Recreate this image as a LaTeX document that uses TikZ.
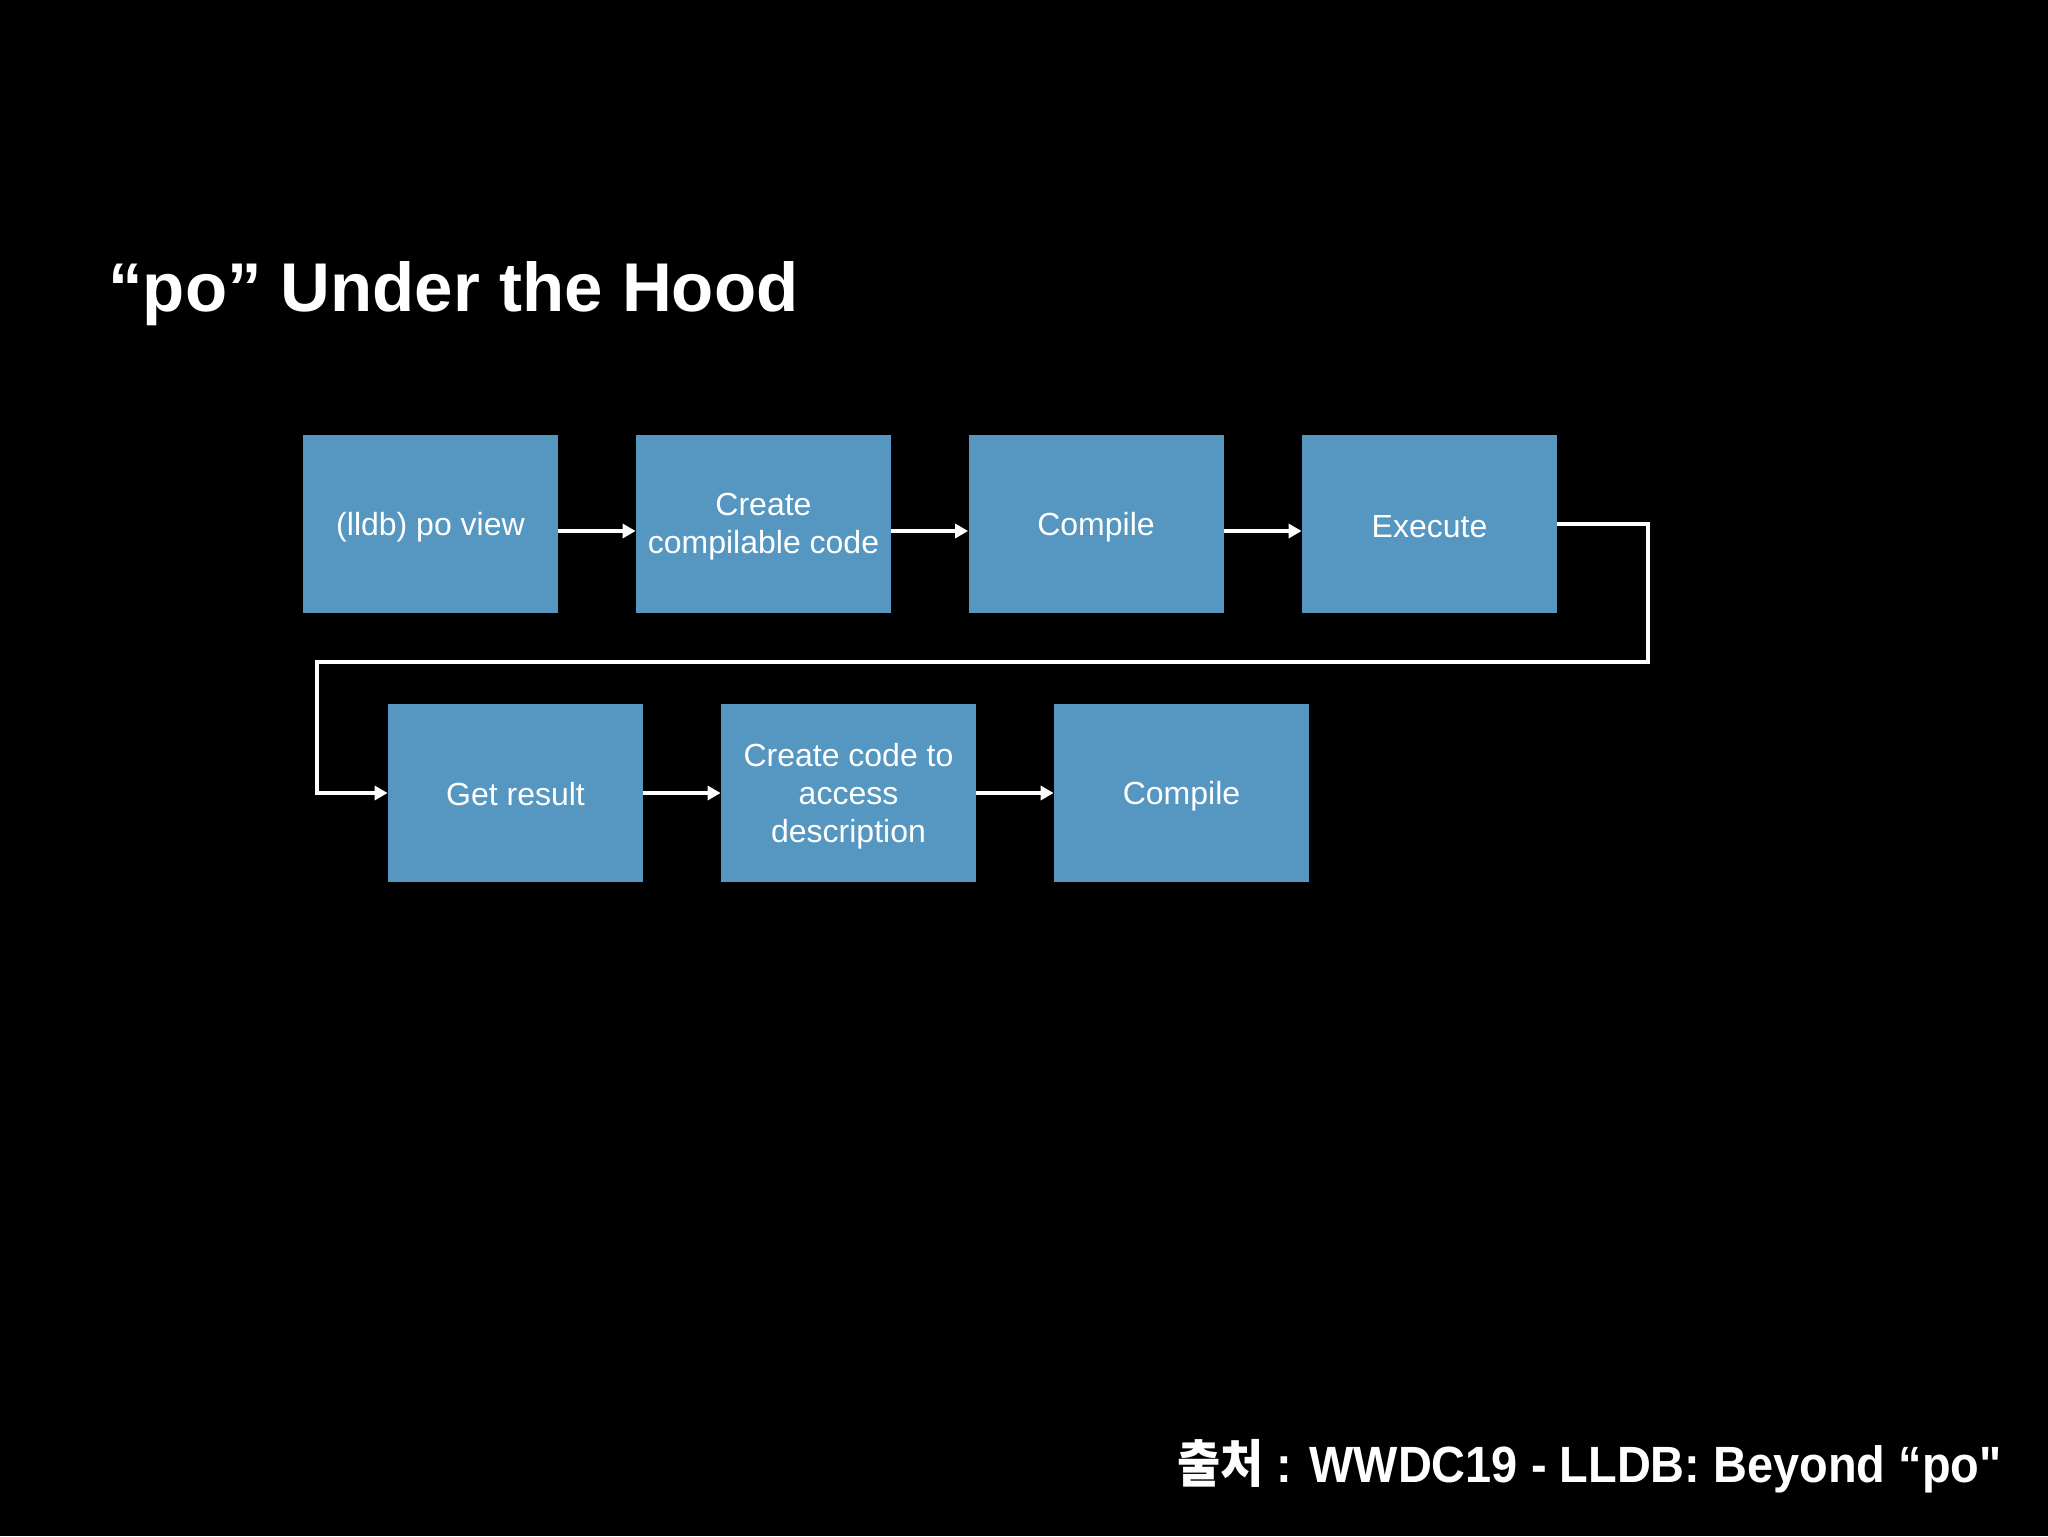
\documentclass[tikz,border=0pt]{standalone}
\usepackage{fontspec}
\setmainfont{Liberation Sans}
\newfontfamily\krfont{Noto Sans CJK KR}
\usetikzlibrary{arrows.meta}
\definecolor{boxblue}{RGB}{86,151,194}
\tikzset{
  stepbox/.style={fill=boxblue, draw=none, minimum width=127.5pt, minimum height=89pt,
    inner sep=0pt},
  boxtext/.style={text=white, align=center, inner sep=0pt, yshift=-1.5pt,
    font=\fontsize{16}{19}\selectfont},
  flow/.style={draw=white, line width=2pt, -{Triangle[length=6.5pt,width=7pt]}},
  loopline/.style={draw=white, line width=1.6pt},
}
\begin{document}
\begin{tikzpicture}[x=0.5pt,y=-0.5pt]
\fill[black] (0,0) rectangle (2048,1536);
\useasboundingbox (0,0) rectangle (2048,1536);
\node[anchor=base west, text=white, font=\fontsize{34.5}{40}\selectfont\bfseries, inner sep=0pt] (title) at (108,311) {“po” Under the Hood};
\node[stepbox, label={[boxtext]center:(lldb) po view}] (b1) at (430.5,524) {};
\node[stepbox, label={[boxtext]center:Create\\compilable code}] (b2) at (763.5,524) {};
\node[stepbox, label={[boxtext]center:Compile}] (b3) at (1096,524) {};
\node[stepbox, label={[boxtext]center:Execute}] (b4) at (1429.5,524) {};
\node[stepbox, label={[boxtext,yshift=1pt]center:Get result}] (b5) at (515.5,793) {};
\node[stepbox, label={[boxtext]center:Create code to\\access\\description}] (b6) at (848.5,793) {};
\node[stepbox, label={[boxtext]center:Compile}] (b7) at (1181.5,793) {};
\draw[flow] ([yshift=-3.5pt]b1.east) -- ([yshift=-3.5pt]b2.west);
\draw[flow] ([yshift=-3.5pt]b2.east) -- ([yshift=-3.5pt]b3.west);
\draw[flow] ([yshift=-3.5pt]b3.east) -- ([yshift=-3.5pt]b4.west);
\coordinate (c1) at (1648,662);
\coordinate (c2) at (317,662);
\draw[loopline] (b4.east) -| (c1) -- (c2) |- ([xshift=-5pt]b5.west);
\draw[flow] ([xshift=-10pt]b5.west) -- (b5.west);
\draw[flow] (b5.east) -- (b6.west);
\draw[flow] (b6.east) -- (b7.west);
\node[anchor=base east, text=white, font=\fontsize{25.5}{30}\selectfont\bfseries, inner sep=0pt] (src) at (2002,1482) {\scalebox{0.92}[1]{{\krfont\bfseries 출처} : WWDC19 - LLDB: Beyond “po{\addfontfeatures{Ligatures=TeXOff}"}}};
\end{tikzpicture}
\end{document}
